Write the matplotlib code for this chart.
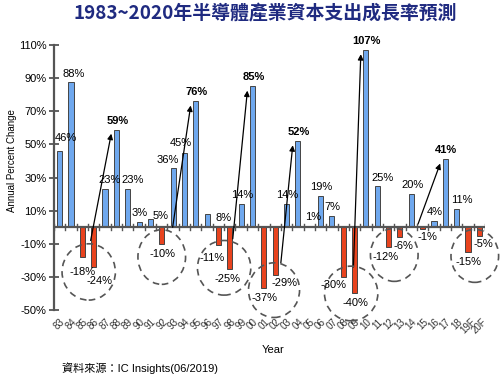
import numpy as np
import matplotlib
matplotlib.use("Agg")
import matplotlib.pyplot as plt
from matplotlib.patches import Ellipse

plt.rcParams['font.family'] = ['Liberation Sans', 'Noto Sans CJK TC', 'DejaVu Sans']

# data
years = ['83', '84', '85', '86', '87', '88', '89', '90', '91', '92', '93', '94', '95',
         '96', '97', '98', '99', '00', '01', '02', '03', '04', '05', '06', '07', '08',
         '09', '10', '11', '12', '13', '14', '15', '16', '17', '18', '19F', '20F']
growth = [46, 88, -18, -24, 23, 59, 23, 3, 5, -10, 36, 45, 76,
          8, -11, -25, 14, 85, -37, -29, 14, 52, 1, 19, 7, -30,
          -40, 107, 25, -12, -6, 20, -1, 4, 41, 11, -15, -5]
peaks = ['88', '95', '00', '04', '10', '17']
yticks = [-50, -30, -10, 10, 30, 50, 70, 90, 110]

# label nudges in pixels (dx, dy) where not default
nudge = {'83': (6, 13), '84': (3, 8), '85': (0, -15), '86': (6, -14), '87': (5, 9),
         '89': (5, 9), '91': (10, 3), '93': (-5, 8), '94': (-4, 10), '96': (16, -4),
         '97': (-6, -13), '98': (-2, -10), '02': (9, -8), '05': (4, 9), '08': (-10, -8),
         '11': (5, 8), '12': (-3, -10), '13': (4, -9), '15': (5, -8), '18': (5, 9),
         '20F': (4, -8)}

# rebound arrows: (start idx, start val, peak year)
arrows = [(2.73, -8, '88'), (9.96, 0, '95'), (15.26, -7, '00'),
          (19.5, -21.5, '04'), (25.9, -24, '10'), (31.6, 2, '17')]
# dashed circles round the downturns: (center idx, center val, width, height)
circles = [(2.56, -27, 4.7, 34), (9.0, -18, 4.2, 33), (14.5, -24.5, 4.7, 33),
           (18.9, -38, 4.5, 33), (25.7, -40, 4.7, 33), (29.5, -16.7, 4.2, 32),
           (36.6, -17.3, 4.2, 32)]

x = np.arange(len(years))
colors = ['#6FA8EE' if v >= 0 else '#E8431E' for v in growth]

fig = plt.figure(figsize=(5, 3.79), dpi=100)
ax = fig.add_axes([0.108, 0.182, 0.862, 0.699])

ax.bar(x, growth, width=0.45, color=colors, edgecolor='#444444', linewidth=0.7, zorder=3)

ax.set_xlim(-0.5, len(years) - 0.5)
ax.set_ylim(-50, 110)

for s in ['top', 'right', 'bottom']:
    ax.spines[s].set_visible(False)
ax.spines['left'].set_color('#555555')
ax.spines['left'].set_linewidth(1.6)

ax.set_yticks(yticks)
ax.set_yticklabels([f'{t}%' for t in yticks], fontsize=8)
ax.tick_params(axis='y', direction='inout', length=7, width=1.3, color='#555555', pad=2)

ax.set_xticks(x)
ax.set_xticklabels(years, rotation=45, fontsize=7, color='#333333', ha='center', va='top')
ax.tick_params(axis='x', length=0, pad=5)

# zero line with boundary ticks
ax.axhline(0, color='#555555', lw=1.6, zorder=4)
for b in np.arange(-0.5, len(years), 1.0):
    ax.plot([b, b], [-1.8, 1.8], color='#555555', lw=1.0, zorder=4)

# value labels
for i, (yr, v) in enumerate(zip(years, growth)):
    dx, dy = nudge.get(yr, (1, 9 if v >= 0 else -10))
    ax.annotate(f'{v}%', (i, v), xytext=(dx, dy), textcoords='offset pixels',
                ha='center', va='center', fontsize=8,
                fontweight='bold' if yr in peaks else 'normal', zorder=6)

# arrows from troughs to peaks
for sx, sy, pk in arrows:
    j = years.index(pk)
    ax.annotate('', xy=(j - 0.45, growth[j] - 2.5), xytext=(sx, sy),
                arrowprops=dict(arrowstyle='-|>', color='black', lw=0.9,
                                mutation_scale=8, shrinkA=0, shrinkB=0), zorder=5)

for cx, cy, w, h in circles:
    ax.add_patch(Ellipse((cx, cy), w, h, fill=False, ls=(0, (4, 3)),
                         ec='#555555', lw=1.2, zorder=5, clip_on=False))

ax.set_ylabel('Annual Percent Change', fontsize=7)
ax.yaxis.set_label_coords(-0.085, 0.566)
fig.text(0.546, 0.077, 'Year', fontsize=8, ha='center', va='center')
fig.text(0.124, 0.029, '資料來源：IC Insights(06/2019)', fontsize=8, ha='left', va='center')
fig.text(0.53, 0.963, '1983~2020年半導體產業資本支出成長率預測', fontsize=13.6,
         fontweight='bold', color='#1F2A80', ha='center', va='center',
         family=['Noto Sans CJK TC', 'DejaVu Sans'])

fig.savefig('out.png', dpi=100)
